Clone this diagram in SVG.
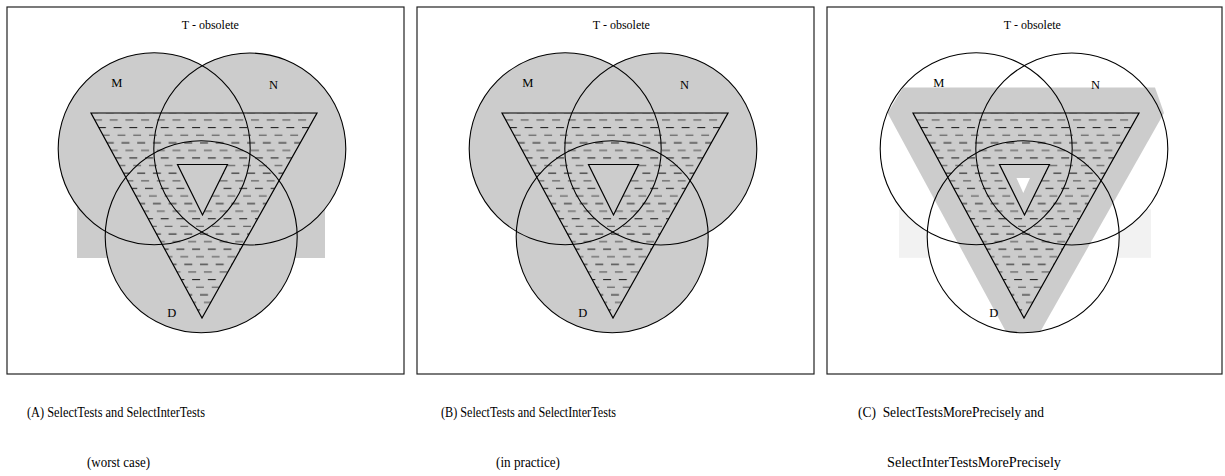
<svg xmlns="http://www.w3.org/2000/svg" width="1225" height="476" viewBox="0 0 1225 476">
<style>
.frame{fill:#fff;stroke:#222;stroke-width:1.2}
.cg{fill:#cccccc}
.cw{fill:#fff}
.ol{fill:none;stroke:#000;stroke-width:1.1}
.tl{fill:none;stroke:#000;stroke-width:1.2;stroke-linejoin:miter}
.lbl{font-family:"Liberation Serif","Times New Roman",serif;font-size:12.5px;fill:#000;text-anchor:middle}
.ttl{font-family:"Liberation Serif","Times New Roman",serif;font-size:12px;fill:#000;text-anchor:middle}
.cap{font-family:"Liberation Serif","Times New Roman",serif;font-size:14px;fill:#000;white-space:pre}
</style>
<defs>
<pattern id="dash" patternUnits="userSpaceOnUse" x="94" y="116.2" width="15.7" height="30.4">
<line x1="0" y1="3.8" x2="8" y2="3.8" stroke="#666" stroke-width="1.3"/>
<line x1="3.9" y1="11.4" x2="11.9" y2="11.4" stroke="#111" stroke-width="1"/>
<line x1="7.85" y1="19" x2="15.7" y2="19" stroke="#666" stroke-width="1.3"/>
<line x1="11.8" y1="26.6" x2="15.7" y2="26.6" stroke="#111" stroke-width="1"/>
<line x1="0" y1="26.6" x2="4.1" y2="26.6" stroke="#111" stroke-width="1"/>
</pattern>
<path id="ring" d="M91,113 L317,113 L202,318 Z M177.5,164.5 L227.5,164.5 L202.5,215 Z"/>
</defs>

<g id="connectors"/>

<!-- Panel A -->
<g id="panelA">
<rect class="frame" x="7" y="7" width="397" height="367"/>
<g id="panelA-content">
<rect class="cg" x="77" y="200" width="248" height="58"/>
<circle class="cg" cx="154.2" cy="148.7" r="96"/>
<circle class="cg" cx="249.8" cy="149" r="96"/>
<circle class="cg" cx="201.2" cy="236.8" r="96"/>
<g id="A-T"><use href="#ring" fill="url(#dash)" fill-rule="evenodd"/><polygon class="tl" points="91,113 317,113 202,318"/><polygon class="tl" points="177.5,164.5 227.5,164.5 202.5,215"/></g>
<g id="A-M"><circle class="ol" cx="154.2" cy="148.7" r="96"/><text class="lbl" x="116.8" y="87.3">M</text></g>
<g id="A-N"><circle class="ol" cx="249.8" cy="149" r="96"/><text class="lbl" x="273.5" y="89.3">N</text></g>
<g id="A-D"><circle class="ol" cx="201.2" cy="236.8" r="96"/><text class="lbl" x="171.7" y="317.3">D</text></g>
<text class="ttl" x="210.4" y="29">T - obsolete</text>
</g>
<text class="cap" x="27" y="416.5" textLength="178" lengthAdjust="spacingAndGlyphs">(A) SelectTests and SelectInterTests</text>
<text class="cap" x="87" y="466.5" textLength="63" lengthAdjust="spacingAndGlyphs">(worst case)</text>
</g>

<!-- Panel B -->
<g id="panelB">
<rect class="frame" x="417" y="7" width="397" height="367"/>
<g id="panelB-content" transform="translate(411,0)">
<circle class="cg" cx="154.2" cy="148.7" r="96"/>
<circle class="cg" cx="249.8" cy="149" r="96"/>
<circle class="cg" cx="201.2" cy="236.8" r="96"/>
<g id="B-T"><use href="#ring" fill="url(#dash)" fill-rule="evenodd"/><polygon class="tl" points="91,113 317,113 202,318"/><polygon class="tl" points="177.5,164.5 227.5,164.5 202.5,215"/></g>
<g id="B-M"><circle class="ol" cx="154.2" cy="148.7" r="96"/><text class="lbl" x="116.8" y="87.3">M</text></g>
<g id="B-N"><circle class="ol" cx="249.8" cy="149" r="96"/><text class="lbl" x="273.5" y="89.3">N</text></g>
<g id="B-D"><circle class="ol" cx="201.2" cy="236.8" r="96"/><text class="lbl" x="171.7" y="317.3">D</text></g>
<text class="ttl" x="210.4" y="29">T - obsolete</text>
</g>
<text class="cap" x="441" y="416.5" textLength="175" lengthAdjust="spacingAndGlyphs">(B) SelectTests and SelectInterTests</text>
<text class="cap" x="496" y="466.5" textLength="64" lengthAdjust="spacingAndGlyphs">(in practice)</text>
</g>

<!-- Panel C -->
<g id="panelC">
<rect class="frame" x="827" y="7" width="395" height="367"/>
<g id="panelC-content" transform="translate(822,0)">
<rect x="77" y="209.3" width="252" height="48.5" fill="#f2f2f2"/>
<circle class="cw" cx="154.2" cy="148.7" r="96"/>
<circle class="cw" cx="249.8" cy="149" r="96"/>
<circle class="cw" cx="201.2" cy="236.8" r="96"/>
<polygon class="cg" points="81,87.5 333,87.5 342,113 218.1,332 184.1,332 65.6,113"/>
<g id="C-T">
<use href="#ring" fill="url(#dash)" fill-rule="evenodd"/>
<polygon fill="#fff" points="194.5,178 208,178 201.3,193"/>
<polygon class="tl" points="91,113 317,113 202,318"/><polygon class="tl" points="177.5,164.5 227.5,164.5 202.5,215"/></g>
<g id="C-M"><circle class="ol" cx="154.2" cy="148.7" r="96"/><text class="lbl" x="116.8" y="87.3">M</text></g>
<g id="C-N"><circle class="ol" cx="249.8" cy="149" r="96"/><text class="lbl" x="273.5" y="89.3">N</text></g>
<g id="C-D"><circle class="ol" cx="201.2" cy="236.8" r="96"/><text class="lbl" x="171.7" y="317.3">D</text></g>
<text class="ttl" x="210.4" y="29">T - obsolete</text>
</g>
<text class="cap" x="858" y="416.5" textLength="186" lengthAdjust="spacingAndGlyphs">(C)  SelectTestsMorePrecisely and</text>
<text class="cap" x="887" y="466.5" textLength="174" lengthAdjust="spacingAndGlyphs">SelectInterTestsMorePrecisely</text>
</g>
</svg>
